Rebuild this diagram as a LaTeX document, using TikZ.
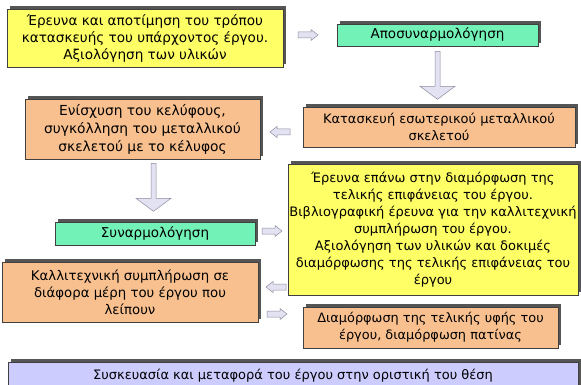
\documentclass[tikz,border=0pt]{standalone}
\usepackage{fontspec}
\setmainfont{DejaVu Sans}
\usetikzlibrary{shadows,calc}
\definecolor{byellow}{HTML}{FFFF66}
\definecolor{borange}{HTML}{F9C08F}
\definecolor{bgreen}{HTML}{73F2B8}
\definecolor{blav}{HTML}{CCCCFF}
\definecolor{afill}{HTML}{E2E2F2}
\definecolor{aline}{HTML}{8C8CA0}
\definecolor{shade}{HTML}{555555}
\tikzset{
  box/.style={draw=black!75, line width=0.6pt, align=center, inner sep=0pt,
    font=\fontsize{13.2}{17}\selectfont,
    general shadow={fill=shade, shadow xshift=3pt, shadow yshift=3pt}},
  ybox/.style={box, fill=byellow},
  obox/.style={box, fill=borange},
  gbox/.style={box, fill=bgreen},
  lbox/.style={box, fill=blav},
  fs/.style={font=\fontsize{#1}{17}\selectfont},
  arrowsty/.style={draw=aline, fill=afill, line width=0.5pt, line join=miter},
  pics/rarr/.style={code={\draw[arrowsty] (-10,-3) -- (3,-3) -- (3,-5.5) -- (10,0) -- (3,5.5) -- (3,3) -- (-10,3) -- cycle;}},
  pics/larr/.style={code={\draw[arrowsty] (10,-3) -- (-3,-3) -- (-3,-5.5) -- (-10,0) -- (-3,5.5) -- (-3,3) -- (10,3) -- cycle;}},
  pics/darr/.style={code={\draw[arrowsty] (-2.5,0) -- (2.5,0) -- (2.5,35) -- (17.5,35) -- (0,48) -- (-17.5,35) -- (-2.5,35) -- cycle;}},
}
\begin{document}
\begin{tikzpicture}[x=1pt,y=-1pt]
\clip (0,0) rectangle (581,385);
\fill[white] (0,0) rectangle (581,385);

\node[ybox, fs=13.6, minimum width=276pt, minimum height=58pt] (b1) at (145,38)
  {Έρευνα και αποτίμηση του τρόπου\\κατασκευής του υπάρχοντος έργου.\\Αξιολόγηση των υλικών};
\node[gbox, fs=13.5, minimum width=201pt, minimum height=22pt] (b2) at (437.5,35)
  {Αποσυναρμολόγηση};
\node[obox, fs=13.0, minimum width=272pt, minimum height=40pt] (b3) at (439,127)
  {Κατασκευή εσωτερικού μεταλλικού\\σκελετού};
\node[obox, font=\fontsize{13.8}{18}\selectfont, minimum width=235pt, minimum height=60pt] (b4) at (142.5,129)
  {Ενίσχυση του κελύφους,\\συγκόλληση του μεταλλικού\\σκελετού με το κέλυφος};
\node[gbox, fs=13.5, minimum width=200pt, minimum height=23pt] (b5) at (155,233.5)
  {Συναρμολόγηση};
\node[ybox, fs=13.0, minimum width=290pt, minimum height=131pt] (b6) at (433,229.5)
  {Έρευνα επάνω στην διαμόρφωση της\\τελικής επιφάνειας του έργου.\\Βιβλιογραφική έρευνα για την καλλιτεχνική\\συμπλήρωση του έργου.\\Αξιολόγηση των υλικών και δοκιμές\\διαμόρφωσης της τελικής επιφάνειας του\\έργου};
\node[obox, fs=13.3, minimum width=256pt, minimum height=60pt] (b7) at (130,292)
  {Καλλιτεχνική συμπλήρωση σε\\διάφορα μέρη του έργου που\\λείπουν};
\node[obox, fs=12.9, minimum width=255pt, minimum height=41pt] (b8) at (430.5,327.5)
  {Διαμόρφωση της τελικής υφής του\\έργου, διαμόρφωση πατίνας};
\node[lbox, fs=13.0, minimum width=570pt, minimum height=40pt, text depth=15pt] (b9) at (293,382)
  {Συσκευασία και μεταφορά του έργου στην οριστική του θέση};

\pic at ($(b2.south)+(0,5)$) {darr};
\pic at (308,35) {rarr};
\pic at (280,132) {larr};
\pic at ($(b4.south)+(11,4)$) {darr};
\pic at (272,231) {rarr};
\pic at (276,287) {larr};
\pic at (277,314) {rarr};
\end{tikzpicture}
\end{document}
